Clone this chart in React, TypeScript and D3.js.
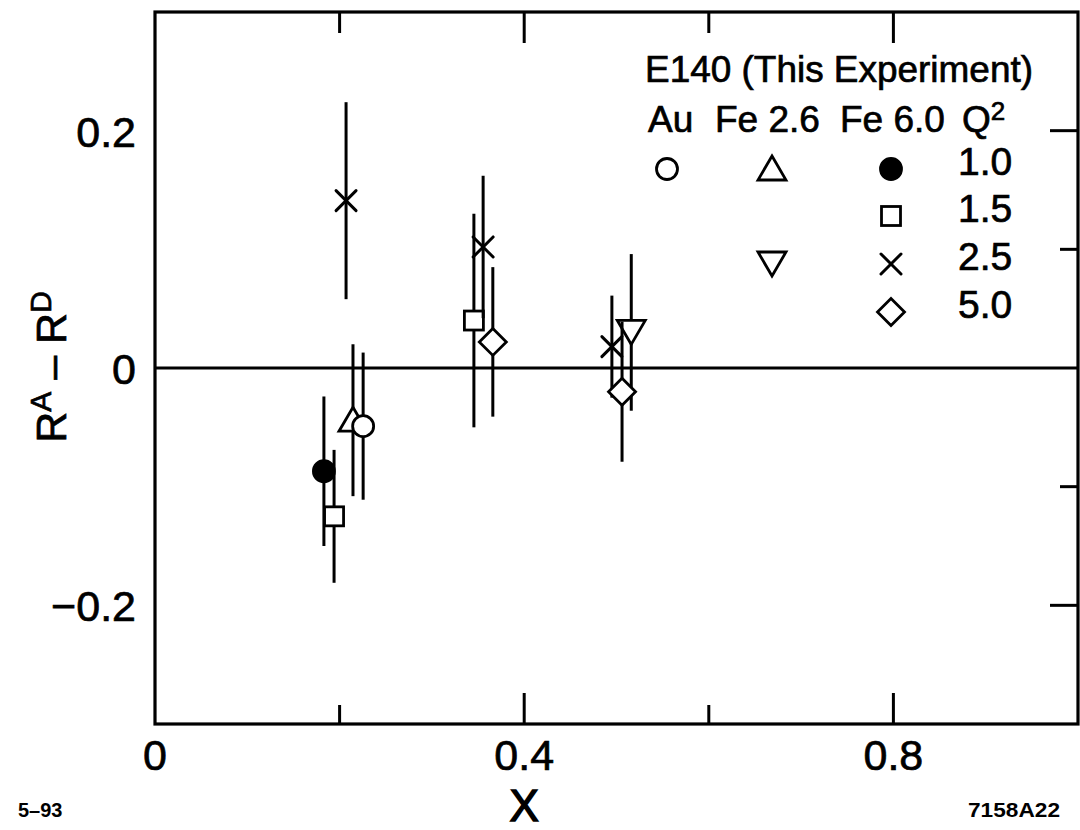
import React from "react";
import * as d3 from "d3";

// ---- data ----
const pointX = [0.183, 0.194, 0.2145, 0.2255, 0.207, 0.3455, 0.3555, 0.366, 0.495, 0.516, 0.506];
const pointY = [-0.087, -0.125, -0.044, -0.049, 0.141, 0.040, 0.102, 0.022, 0.018, 0.030, -0.020];
const pointErr = [0.063, 0.056, 0.064, 0.062, 0.083, 0.090, 0.060, 0.063, 0.043, 0.066, 0.059];
const pointSymbol = [
  "filledCircle", "square", "triangleUp", "circle", "cross",
  "square", "cross", "diamond", "cross", "triangleDown", "diamond",
];

const xMajorTicks = [0, 0.4, 0.8];
const xMinorTicks = [0.2, 0.6];
const xTickLabels = ["0", "0.4", "0.8"];
const yMajorTicks = [0.2, -0.2];
const yMinorTicks = [0.1, -0.1];
const yTickValues = [0.2, 0, -0.2];
const yTickLabels = ["0.2", "0", "\u22120.2"];

const legendTitle = "E140 (This Experiment)";
const legendTargets = ["Au", "Fe 2.6", "Fe 6.0"];
const legendQ2 = ["1.0", "1.5", "2.5", "5.0"];

const W = 1080, H = 830;
const L = 155, R = 1078, T = 12, B = 724;
const FONT = "'Liberation Sans', Arial, Helvetica, sans-serif";
const TS = { stroke: "#000", strokeWidth: 0.7 } as const;

function Sym({ type, cx, cy }: { type: string; cx: number; cy: number }) {
  const sw = 2.8;
  if (type === "circle" || type === "filledCircle") {
    return (
      <circle cx={cx} cy={cy} r={10.5} fill={type === "filledCircle" ? "#000" : "#fff"} stroke="#000" strokeWidth={sw} />
    );
  }
  if (type === "square") {
    return <rect x={cx - 9.5} y={cy - 9.5} width={19} height={19} fill="#fff" stroke="#000" strokeWidth={sw} />;
  }
  if (type === "triangleUp") {
    const p = d3.path();
    p.moveTo(cx, cy - 13); p.lineTo(cx + 14, cy + 11); p.lineTo(cx - 14, cy + 11); p.closePath();
    return <path d={p.toString()} fill="#fff" stroke="#000" strokeWidth={sw} strokeLinejoin="miter" />;
  }
  if (type === "triangleDown") {
    const p = d3.path();
    p.moveTo(cx, cy + 12); p.lineTo(cx + 14, cy - 12); p.lineTo(cx - 14, cy - 12); p.closePath();
    return <path d={p.toString()} fill="#fff" stroke="#000" strokeWidth={sw} strokeLinejoin="miter" />;
  }
  if (type === "diamond") {
    const p = d3.path();
    p.moveTo(cx, cy - 13.5); p.lineTo(cx + 13.5, cy); p.lineTo(cx, cy + 13.5); p.lineTo(cx - 13.5, cy); p.closePath();
    return <path d={p.toString()} fill="#fff" stroke="#000" strokeWidth={sw} />;
  }
  // cross
  const s = 10;
  return (
    <g stroke="#000" strokeWidth={3} strokeLinecap="round">
      <line x1={cx - s} y1={cy - s} x2={cx + s} y2={cy + s} />
      <line x1={cx - s} y1={cy + s} x2={cx + s} y2={cy - s} />
    </g>
  );
}

export default function App() {
  const x = d3.scaleLinear().domain([0, 1]).range([L, R]);
  const y = d3.scaleLinear().domain([-0.3, 0.3]).range([B, T]);

  const legendRows = [175, 222, 270, 318];
  const legendSymbolRows: { type: string; col: number; row: number }[] = [
    { type: "circle", col: 0, row: 0 },
    { type: "triangleUp", col: 1, row: 0 },
    { type: "filledCircle", col: 2, row: 0 },
    { type: "square", col: 2, row: 1 },
    { type: "triangleDown", col: 1, row: 2 },
    { type: "cross", col: 2, row: 2 },
    { type: "diamond", col: 2, row: 3 },
  ];
  const legendCols = [667, 772, 891];
  const legendTargetX = [648, 715, 840];

  return (
    <svg width={W} height={H} style={{ position: "absolute", left: 0, top: 0, background: "#fff" }} fontFamily={FONT}>
      <rect x={0} y={0} width={W} height={H} fill="#fff" />
      {/* frame */}
      <rect x={L} y={T} width={R - L} height={B - T} fill="none" stroke="#000" strokeWidth={3.2} />
      {/* zero line */}
      <line x1={L} x2={R} y1={y(0)} y2={y(0)} stroke="#000" strokeWidth={3} />

      {/* x ticks (top and bottom, inward) */}
      {xMajorTicks.filter((v) => v > 0).map((v) => (
        <g key={"xM" + v} stroke="#000" strokeWidth={3}>
          <line x1={x(v)} x2={x(v)} y1={T} y2={T + 31} />
          <line x1={x(v)} x2={x(v)} y1={B} y2={B - 31} />
        </g>
      ))}
      {xMinorTicks.map((v) => (
        <g key={"xm" + v} stroke="#000" strokeWidth={3}>
          <line x1={x(v)} x2={x(v)} y1={T} y2={T + 21} />
          <line x1={x(v)} x2={x(v)} y1={B} y2={B - 19} />
        </g>
      ))}
      {/* y ticks (right side, inward) */}
      {yMajorTicks.map((v) => (
        <line key={"yM" + v} x1={R} x2={R - 28} y1={y(v)} y2={y(v)} stroke="#000" strokeWidth={3} />
      ))}
      {yMinorTicks.map((v) => (
        <line key={"ym" + v} x1={R} x2={R - 18} y1={y(v)} y2={y(v)} stroke="#000" strokeWidth={3} />
      ))}

      {/* tick labels */}
      {xMajorTicks.map((v, i) => (
        <text key={"xl" + v} x={x(v)} y={770} fontSize={43} textAnchor="middle" fill="#000" {...TS}>
          {xTickLabels[i]}
        </text>
      ))}
      {yTickValues.map((v, i) => (
        <text key={"yl" + v} x={136} y={y(v) + 16} fontSize={43} textAnchor="end" fill="#000" {...TS}>
          {yTickLabels[i]}
        </text>
      ))}

      {/* axis titles */}
      <text x={x(0.4)} y={821} fontSize={44} textAnchor="middle" fill="#000" stroke="#000" strokeWidth={1.4}>X</text>
      <g transform={`translate(66, 367) rotate(-90)`}>
        <text x={0} y={0} fontSize={43} textAnchor="middle" fill="#000" {...TS}>
          R<tspan fontSize={30} dy={-15}>A</tspan>
          <tspan dy={15}> – R</tspan>
          <tspan fontSize={30} dy={-15}>D</tspan>
        </text>
      </g>

      {/* data points: error bars then symbols */}
      {pointX.map((px, i) => (
        <g key={"pt" + i}>
          <line
            x1={x(px)} x2={x(px)}
            y1={y(pointY[i] + pointErr[i])} y2={y(pointY[i] - pointErr[i])}
            stroke="#000" strokeWidth={3}
          />
          <Sym type={pointSymbol[i]} cx={x(px)} cy={y(pointY[i])} />
        </g>
      ))}

      {/* legend */}
      <text x={645} y={82} fontSize={37} fill="#000" textLength={388} lengthAdjust="spacingAndGlyphs" {...TS}>{legendTitle}</text>
      {legendTargets.map((t, i) => (
        <text key={t} x={legendTargetX[i]} y={132} fontSize={37} fill="#000" {...TS}>{t}</text>
      ))}
      <text x={962} y={132} fontSize={37} fill="#000" {...TS}>
        Q<tspan fontSize={26} dy={-12}>2</tspan>
      </text>
      {legendQ2.map((q, i) => (
        <text key={q} x={958} y={legendRows[i]} fontSize={39} fill="#000" {...TS}>{q}</text>
      ))}
      {legendSymbolRows.map((s, i) => (
        <Sym key={"ls" + i} type={s.type} cx={legendCols[s.col]} cy={legendRows[s.row] - 6} />
      ))}

      {/* footer codes */}
      <text x={18} y={817} fontSize={20} fontWeight="bold" fill="#000">5–93</text>
      <text x={968} y={817} fontSize={20} fontWeight="bold" fill="#000" textLength={92} lengthAdjust="spacingAndGlyphs">7158A22</text>
    </svg>
  );
}
